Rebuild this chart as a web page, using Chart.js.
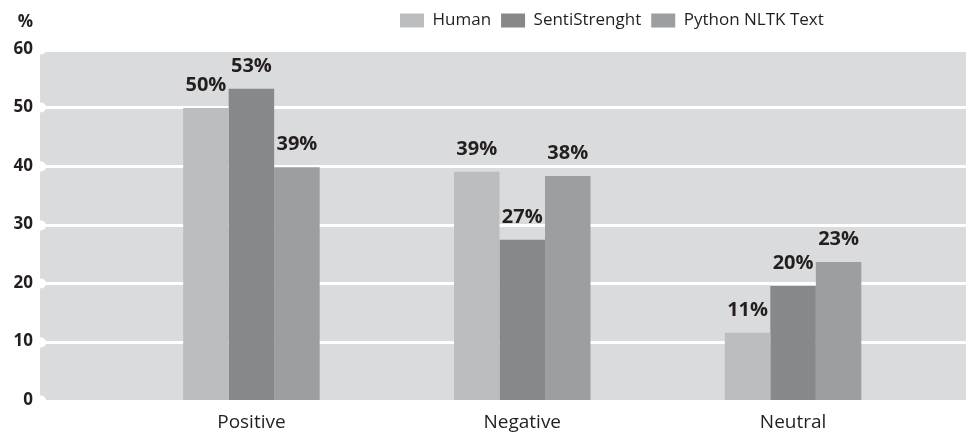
<!DOCTYPE html>
<html>
<head>
<meta charset="utf-8">
<script src="https://cdn.jsdelivr.net/npm/chart.js@4.4.1/dist/chart.umd.min.js"></script>
<style>
  html, body { margin: 0; padding: 0; background: #fff; }
  #wrap { width: 966px; height: 434px; }
</style>
</head>
<body>
<div id="wrap"><canvas id="myChart"></canvas></div>
<script>
const categories = ['Positive', 'Negative', 'Neutral']
const seriesNames = ['Human', 'SentiStrenght', 'Python NLTK Text']
const human = [49.9, 39.0, 11.5]
const senti = [53.2, 27.4, 19.5]
const nltk = [39.8, 38.3, 23.6]
// printed labels (rounded, as in the figure)
const humanLabels = ['50%', '39%', '11%']
const sentiLabels = ['53%', '27%', '20%']
const nltkLabels = ['39%', '38%', '23%']
const yTicks = [0, 10, 20, 30, 40, 50, 60]

const FONT = "'Open Sans', 'Noto Sans', sans-serif"
const TEXT = '#231f20'
const colors = ['#bcbdbf', '#87888a', '#9d9ea0']

// gray plot panel + white grid lines (wider than the chart area) + y labels
const panelPlugin = {
    id: 'panel',
    beforeDatasetsDraw(chart){
        const {ctx} = chart
        const y = chart.scales.y
        const left = 40, right = chart.width
        const top = y.getPixelForValue(60), bottom = y.getPixelForValue(0)
        ctx.save()
        ctx.fillStyle = '#dadbdc'
        ctx.fillRect(left, top + 3, right - left, bottom - top - 3)
        ctx.strokeStyle = '#ffffff'
        ctx.fillStyle = '#ffffff'
        ctx.lineWidth = 3
        yTicks.forEach(v => {
            const py = Math.round(y.getPixelForValue(v)) + 0.5
            if(v > 0 && v < 60){
                ctx.beginPath()
                ctx.moveTo(left, py)
                ctx.lineTo(right, py)
                ctx.stroke()
            }
            ctx.beginPath()
            ctx.arc(left + 1, py, 5, 0, Math.PI * 2)
            ctx.fill()
        })
        ctx.restore()
    },
    afterDraw(chart){
        const {ctx} = chart
        const y = chart.scales.y
        ctx.save()
        ctx.fillStyle = TEXT
        ctx.font = `bold 17px ${FONT}`
        ctx.textAlign = 'right'
        ctx.textBaseline = 'middle'
        ctx.fillText('%', 33, 22)
        yTicks.forEach(v => ctx.fillText(String(v), 33, y.getPixelForValue(v)))
        ctx.restore()
    }
}

// value labels above bars
const labelPlugin = {
    id: 'valueLabels',
    afterDatasetsDraw(chart){
        const {ctx} = chart
        const allLabels = [humanLabels, sentiLabels, nltkLabels]
        ctx.save()
        ctx.fillStyle = TEXT
        ctx.font = `bold 20px ${FONT}`
        ctx.textAlign = 'center'
        ctx.textBaseline = 'alphabetic'
        chart.data.datasets.forEach((ds, i) => {
            chart.getDatasetMeta(i).data.forEach((bar, j) => {
                ctx.fillText(allLabels[i][j], bar.x, bar.y - 17)
            })
        })
        ctx.restore()
    }
}

// move legend to the spot it has in the figure
const legendPos = {
    id: 'legendPos',
    afterLayout(chart){
        if(chart.legend){
            chart.legend.left = 390
            chart.legend.top = 2
        }
    }
}

new Chart(document.getElementById('myChart'), {
    type: 'bar',
    data: {
        labels: categories,
        datasets: [
            { label: seriesNames[0], data: human, backgroundColor: colors[0] },
            { label: seriesNames[1], data: senti, backgroundColor: colors[1] },
            { label: seriesNames[2], data: nltk, backgroundColor: colors[2] }
        ]
    },
    options: {
        responsive: true,
        maintainAspectRatio: false,
        animation: false,
        datasets: {
            bar: { categoryPercentage: 0.504, barPercentage: 1.0, borderWidth: 0 }
        },
        layout: { padding: { top: 12, right: 37.5, bottom: 2, left: 0 } },
        scales: {
            x: {
                afterFit: s => { s.height = 32 },
                grid: { display: false, drawTicks: false },
                border: { display: false },
                ticks: { color: TEXT, font: { family: FONT, size: 19 }, padding: 11 }
            },
            y: {
                min: 0,
                max: 60,
                afterFit: s => { s.width = 116 },
                grid: { display: false, drawTicks: false },
                border: { display: false },
                ticks: { display: false }
            }
        },
        plugins: {
            legend: {
                position: 'top',
                align: 'start',
                labels: {
                    boxWidth: 24,
                    boxHeight: 14,
                    padding: 10,
                    color: TEXT,
                    font: { family: FONT, size: 17 }
                }
            },
            tooltip: { enabled: false }
        }
    },
    plugins: [panelPlugin, labelPlugin, legendPos]
})
</script>
</body>
</html>
